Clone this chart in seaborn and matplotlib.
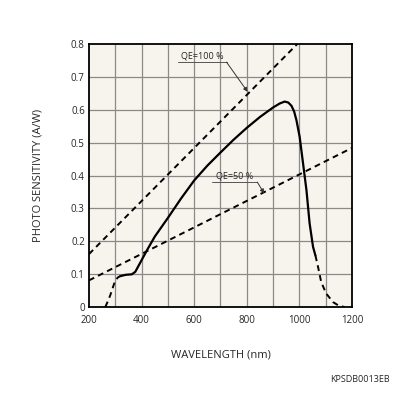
import matplotlib
matplotlib.use("Agg")
from matplotlib import pyplot as plt
import seaborn as sns
import pandas as pd

# spectral response
wl_low = [262, 272, 281, 291, 300, 310, 319]
s_low = [0.0, 0.018, 0.036, 0.060, 0.081, 0.090, 0.094]
wl_mid = [319, 340, 363, 376, 395, 420, 450, 500, 550, 600, 650, 700, 750, 800, 850,
          900, 925, 944, 958, 970, 980, 989, 1001, 1014, 1027, 1039, 1052, 1061]
s_mid = [0.094, 0.098, 0.0995, 0.107, 0.135, 0.172, 0.214, 0.271, 0.330, 0.385, 0.430, 0.470,
         0.509, 0.545, 0.578, 0.607, 0.619, 0.625, 0.622, 0.612, 0.595, 0.568,
         0.518, 0.437, 0.355, 0.254, 0.183, 0.157]
wl_high = [1061, 1071, 1083, 1102, 1128, 1150, 1172]
s_high = [0.157, 0.122, 0.076, 0.041, 0.015, 0.004, 0.0]

# quantum efficiency lines (end points)
qe100_x = [200, 992]
qe100_y = [0.161, 0.80]
qe50_x = [200, 1200]
qe50_y = [0.081, 0.484]

xticks = [200, 400, 600, 800, 1000, 1200]
yticks = [0, 0.1, 0.2, 0.3, 0.4, 0.5, 0.6, 0.7, 0.8]
ytick_labels = ["0", "0.1", "0.2", "0.3", "0.4", "0.5", "0.6", "0.7", "0.8"]

sns.set_style("white", {"axes.facecolor": "#f6f4ec"})
plt.rcParams['font.family'] = ['Open Sans', 'DejaVu Sans']

fig = plt.figure(figsize=(3.96, 3.96), dpi=100)
ax = fig.add_axes([0.2247, 0.2247, 0.6641, 0.6641])

# grid
for gx in range(300, 1200, 100):
    ax.axvline(gx, color="#8a8a8a", lw=0.9, zorder=1)
for gy in yticks[1:-1]:
    ax.axhline(gy, color="#8a8a8a", lw=0.9, zorder=1)

dash = (3.0, 2.2)
sns.lineplot(x=qe100_x, y=qe100_y, ax=ax, color="black", lw=1.4,
             linestyle=(0, dash), zorder=3)
sns.lineplot(x=qe50_x, y=qe50_y, ax=ax, color="black", lw=1.4,
             linestyle=(0, dash), zorder=3)

df_mid = pd.DataFrame({"wl": wl_mid, "s": s_mid})
sns.lineplot(data=df_mid, x="wl", y="s", ax=ax, color="black", lw=1.6, sort=False, zorder=4)
sns.lineplot(x=wl_low, y=s_low, ax=ax, color="black", lw=1.4, sort=False,
             linestyle=(0, dash), zorder=4)
sns.lineplot(x=wl_high, y=s_high, ax=ax, color="black", lw=1.4, sort=False,
             linestyle=(0, dash), zorder=4)

# labels with leader lines
ax.plot([537, 723], [0.745, 0.745], color="#555555", lw=0.7, zorder=5)
ax.text(630, 0.75, "QE=100 %", ha="center", va="bottom", fontsize=6.5, zorder=5)
ax.annotate("", xy=(803, 0.655), xytext=(723, 0.745),
            arrowprops=dict(arrowstyle="-|>", color="#333333", lw=0.7, mutation_scale=6,
                            shrinkA=0, shrinkB=0), zorder=5)
ax.plot([668, 840], [0.380, 0.380], color="#555555", lw=0.7, zorder=5)
ax.text(754, 0.385, "QE=50 %", ha="center", va="bottom", fontsize=6.5, zorder=5)
ax.annotate("", xy=(866, 0.346), xytext=(840, 0.380),
            arrowprops=dict(arrowstyle="-|>", color="#333333", lw=0.7, mutation_scale=6,
                            shrinkA=0, shrinkB=0), zorder=5)

ax.set_xlim(200, 1200)
ax.set_ylim(0, 0.8)
ax.set_xticks(xticks)
ax.set_yticks(yticks)
ax.set_yticklabels(ytick_labels)
ax.tick_params(axis="both", labelsize=7, length=0)
ax.tick_params(axis="x", pad=6)
ax.tick_params(axis="y", pad=3)
for sp in ax.spines.values():
    sp.set_color("black")
    sp.set_linewidth(1.3)

ax.set_xlabel("WAVELENGTH (nm)", fontsize=8, labelpad=17)
ax.set_ylabel("PHOTO SENSITIVITY (A/W)", fontsize=8, labelpad=20)
fig.text(0.985, 0.03, "KPSDB0013EB", ha="right", va="bottom", fontsize=6.5)

fig.savefig("out.png", dpi=100)
